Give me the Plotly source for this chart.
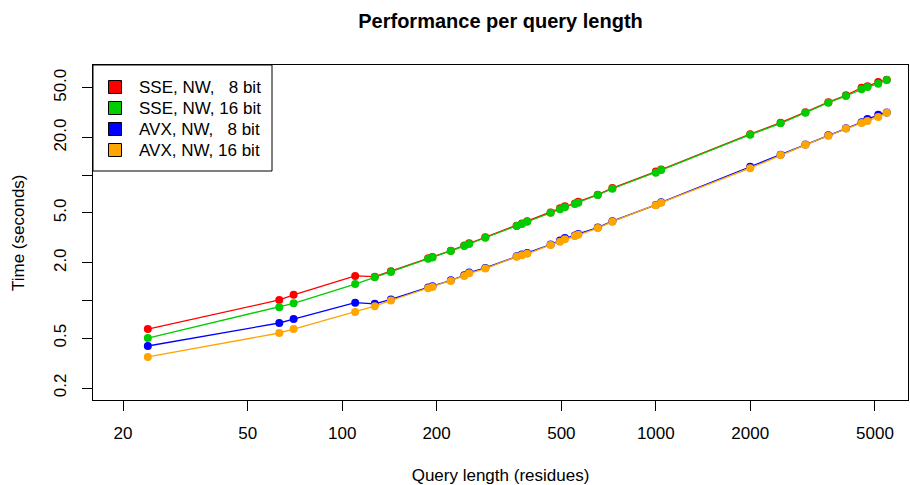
import plotly.graph_objects as go

# Query lengths (residues)
lengths = [24, 63, 70, 110, 127, 143, 188, 194, 222, 245, 254, 286, 360, 374, 389,
           462, 495, 513, 552, 566, 653, 727, 1000, 1040, 2000, 2500, 3000, 3550,
           4040, 4530, 4730, 5120, 5450]

# Times (seconds)
sse_8 = [0.591, 1.01, 1.11, 1.57, 1.55, 1.71, 2.17, 2.23, 2.50, 2.75, 2.86, 3.20, 3.96,
         4.12, 4.30, 5.05, 5.45, 5.65, 5.95, 6.15, 7.00, 7.90, 10.7, 11.1, 21.3, 26.3,
         31.9, 38.4, 43.5, 50.0, 51.5, 55.5, 57.9]
sse_16 = [0.501, 0.882, 0.95, 1.354, 1.53, 1.69, 2.15, 2.20, 2.49, 2.72, 2.83, 3.17,
          3.94, 4.08, 4.26, 5.03, 5.35, 5.55, 5.90, 6.04, 6.96, 7.81, 10.5, 11.0, 21.1,
          26.0, 31.6, 38.0, 43.0, 48.6, 50.7, 53.9, 57.7]
avx_8 = [0.433, 0.661, 0.711, 0.96, 0.94, 1.02, 1.27, 1.30, 1.45, 1.59, 1.67, 1.82,
         2.26, 2.33, 2.40, 2.80, 3.02, 3.15, 3.30, 3.40, 3.82, 4.30, 5.80, 6.08, 11.7,
         14.6, 17.6, 20.9, 23.8, 26.5, 28.2, 30.4, 31.8]
avx_16 = [0.354, 0.550, 0.591, 0.81, 0.90, 1.00, 1.25, 1.28, 1.43, 1.57, 1.65, 1.80,
          2.24, 2.30, 2.36, 2.78, 2.95, 3.08, 3.27, 3.35, 3.79, 4.26, 5.76, 6.04, 11.4,
          14.5, 17.5, 20.7, 23.6, 26.2, 27.1, 29.2, 31.6]

series_names = ["SSE, NW,\u00a0\u00a0\u00a08 bit", "SSE, NW, 16 bit",
                "AVX, NW,\u00a0\u00a0\u00a08 bit", "AVX, NW, 16 bit"]
series_values = [sse_8, sse_16, avx_8, avx_16]
series_colors = ["#FF0000", "#00CD00", "#0000FF", "#FFA500"]

x_ticks = [20, 50, 100, 200, 500, 1000, 2000, 5000]
y_ticks = [0.2, 0.5, 1, 2, 5, 10, 20, 50]
y_tick_labels = ["0.2", "0.5", "", "2.0", "5.0", "", "20.0", "50.0"]

FONT = "Liberation Sans, Arial, Helvetica, sans-serif"

W, H = 910, 485
ML, MR, MT, MB = 93, 2, 65, 85
PW, PH = W - ML - MR, H - MT - MB

fig = go.Figure()
for name, vals, col in zip(series_names, series_values, series_colors):
    fig.add_trace(go.Scatter(
        x=lengths, y=vals, mode="lines+markers", name=name, showlegend=False,
        line=dict(color=col, width=1.3),
        marker=dict(color=col, size=8, line=dict(width=0)),
    ))

# Legend drawn as box, squares and labels (paper coordinates, converted from pixels)
def px_x(px):
    return (px - ML) / PW

def px_y(py):
    return 1 - (py - MT) / PH

shapes = [dict(type="rect", xref="paper", yref="paper",
               x0=px_x(93), x1=px_x(272), y0=px_y(171), y1=px_y(65),
               fillcolor="white", line=dict(color="black", width=1), layer="above")]
annotations = []
row_y = [87, 108, 129, 150]
for name, col, ry in zip(series_names, series_colors, row_y):
    shapes.append(dict(type="rect", xref="paper", yref="paper",
                       x0=px_x(108.5), x1=px_x(121.5), y0=px_y(ry + 6.5), y1=px_y(ry - 6.5),
                       fillcolor=col, line=dict(color="black", width=1), layer="above"))
    annotations.append(dict(xref="paper", yref="paper", x=px_x(137), y=px_y(ry),
                            xanchor="left", yanchor="middle", text=name, showarrow=False,
                            font=dict(size=17, family=FONT, color="black")))

# Y axis title
annotations.append(dict(xref="paper", yref="paper", x=px_x(18.5), y=0.5,
                        xanchor="center", yanchor="middle", textangle=-90,
                        text="Time (seconds)", showarrow=False,
                        font=dict(size=17, family=FONT, color="black")))

fig.update_layout(
    width=W, height=H,
    margin=dict(l=ML, r=MR, t=MT, b=MB, autoexpand=False),
    paper_bgcolor="white", plot_bgcolor="white",
    font=dict(family=FONT, size=17, color="black"),
    title=dict(text="<b>Performance per query length</b>", x=0.5, xref="paper",
               y=1 - 21 / H, yref="container", yanchor="middle", xanchor="center",
               font=dict(size=20, family=FONT, color="black")),
    showlegend=False,
    shapes=shapes,
    annotations=annotations,
)
fig.update_xaxes(
    type="log", range=[1.20537, 3.80422], automargin=False,
    tickvals=x_ticks, ticktext=[str(v) for v in x_ticks],
    ticks="outside", ticklen=10, tickwidth=1, tickcolor="black",
    showline=True, linecolor="black", linewidth=1, mirror=True,
    showgrid=False, zeroline=False, ticklabelstandoff=8,
    title=dict(text="Query length (residues)", standoff=26, font=dict(size=17)),
)
fig.update_yaxes(
    type="log", range=[-0.79482, 1.8809], automargin=False,
    tickvals=y_ticks, ticktext=y_tick_labels, tickangle=-90,
    ticks="outside", ticklen=10, tickwidth=1, tickcolor="black",
    showline=True, linecolor="black", linewidth=1, mirror=True,
    showgrid=False, zeroline=False, ticklabelstandoff=9,
)

fig.write_html("out.html", config={"displayModeBar": False},
               post_script="document.body.style.margin='0';")
